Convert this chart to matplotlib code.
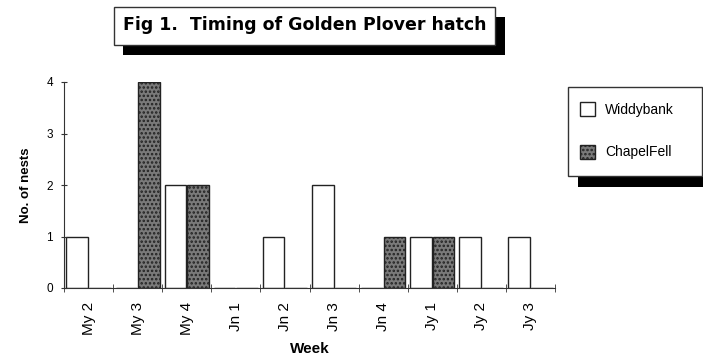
import matplotlib
matplotlib.use("Agg")
import matplotlib.pyplot as plt
from matplotlib.patches import Rectangle
import numpy as np

plt.rcParams['font.family'] = ['Liberation Sans', 'DejaVu Sans']
plt.rcParams['hatch.linewidth'] = 1.2

weeks = ["My 2", "My 3", "My 4", "Jn 1", "Jn 2", "Jn 3", "Jn 4", "Jy 1", "Jy 2", "Jy 3"]
widdybank = [1, 0, 2, 0, 1, 2, 0, 1, 1, 1]
chapelfell = [0, 4, 2, 0, 0, 0, 1, 1, 0, 0]
series_names = ["Widdybank", "ChapelFell"]
title = "Fig 1.  Timing of Golden Plover hatch"

W, H = 703, 361
fig = plt.figure(figsize=(W / 100, H / 100), dpi=100)

def fx(x):
    return x / W

def fy(y):
    return 1 - y / H

ax = fig.add_axes([fx(64), fy(288), fx(555) - fx(64), fy(82) - fy(288)])

x = np.arange(len(weeks))
bw = 0.44
b1 = ax.bar(x - bw / 2 - 0.01, widdybank, bw, facecolor='white', edgecolor='#222222', linewidth=1.0,
            label=series_names[0])
b2 = ax.bar(x + bw / 2 + 0.01, chapelfell, bw, facecolor='#7a7a7a', edgecolor='#222222', linewidth=1.0,
            hatch='....', label=series_names[1])

ax.set_xlim(-0.5, len(weeks) - 0.5)
ax.set_ylim(0, 4)
ax.spines['top'].set_visible(False)
ax.spines['right'].set_visible(False)
ax.spines['left'].set_color('#333333')
ax.spines['bottom'].set_color('#333333')
ax.set_yticks(range(0, 5))
ax.set_yticklabels([str(i) for i in range(0, 5)], fontsize=8.5)
ax.tick_params(axis='y', length=4, direction='inout', color='#333333', pad=6)
ax.set_xticks(x)
ax.set_xticklabels(weeks, rotation=90, fontsize=11)
ax.tick_params(axis='x', which='major', length=0, pad=10)
ax.set_xticks(np.arange(-0.5, len(weeks) + 0.5, 1), minor=True)
ax.tick_params(axis='x', which='minor', length=6, direction='inout', color='#333333')
ax.set_ylabel("No. of nests", fontsize=9.5, fontweight='bold', labelpad=10)
ax.set_xlabel("Week", fontsize=11, fontweight='bold', labelpad=5)

# title box with shadow
fig.add_artist(Rectangle((fx(123), fy(55)), fx(505) - fx(123), fy(17) - fy(55),
                         transform=fig.transFigure, facecolor='black', edgecolor='none'))
fig.add_artist(Rectangle((fx(114), fy(45)), fx(495) - fx(114), fy(7) - fy(45),
                         transform=fig.transFigure, facecolor='white', edgecolor='#333333', linewidth=1.0))
fig.text(fx(305), fy(25), title, ha='center', va='center', fontsize=12.5, fontweight='bold',
         family='DejaVu Sans')

# legend box with shadow
fig.add_artist(Rectangle((fx(578), fy(187)), fx(703) - fx(578), fy(100) - fy(187),
                         transform=fig.transFigure, facecolor='black', edgecolor='none'))
fig.add_artist(Rectangle((fx(568), fy(176)), fx(702) - fx(568), fy(87) - fy(176),
                         transform=fig.transFigure, facecolor='white', edgecolor='#333333', linewidth=1.0))
leg = fig.legend(handles=[b1, b2], loc='upper left', bbox_to_anchor=(fx(580), fy(102)),
                 bbox_transform=fig.transFigure, frameon=False, fontsize=10,
                 handlelength=1.1, handleheight=1.2, labelspacing=2.0, handletextpad=0.7,
                 borderaxespad=0, borderpad=0)
leg.set_zorder(10)

fig.savefig("out.png", dpi=100)
